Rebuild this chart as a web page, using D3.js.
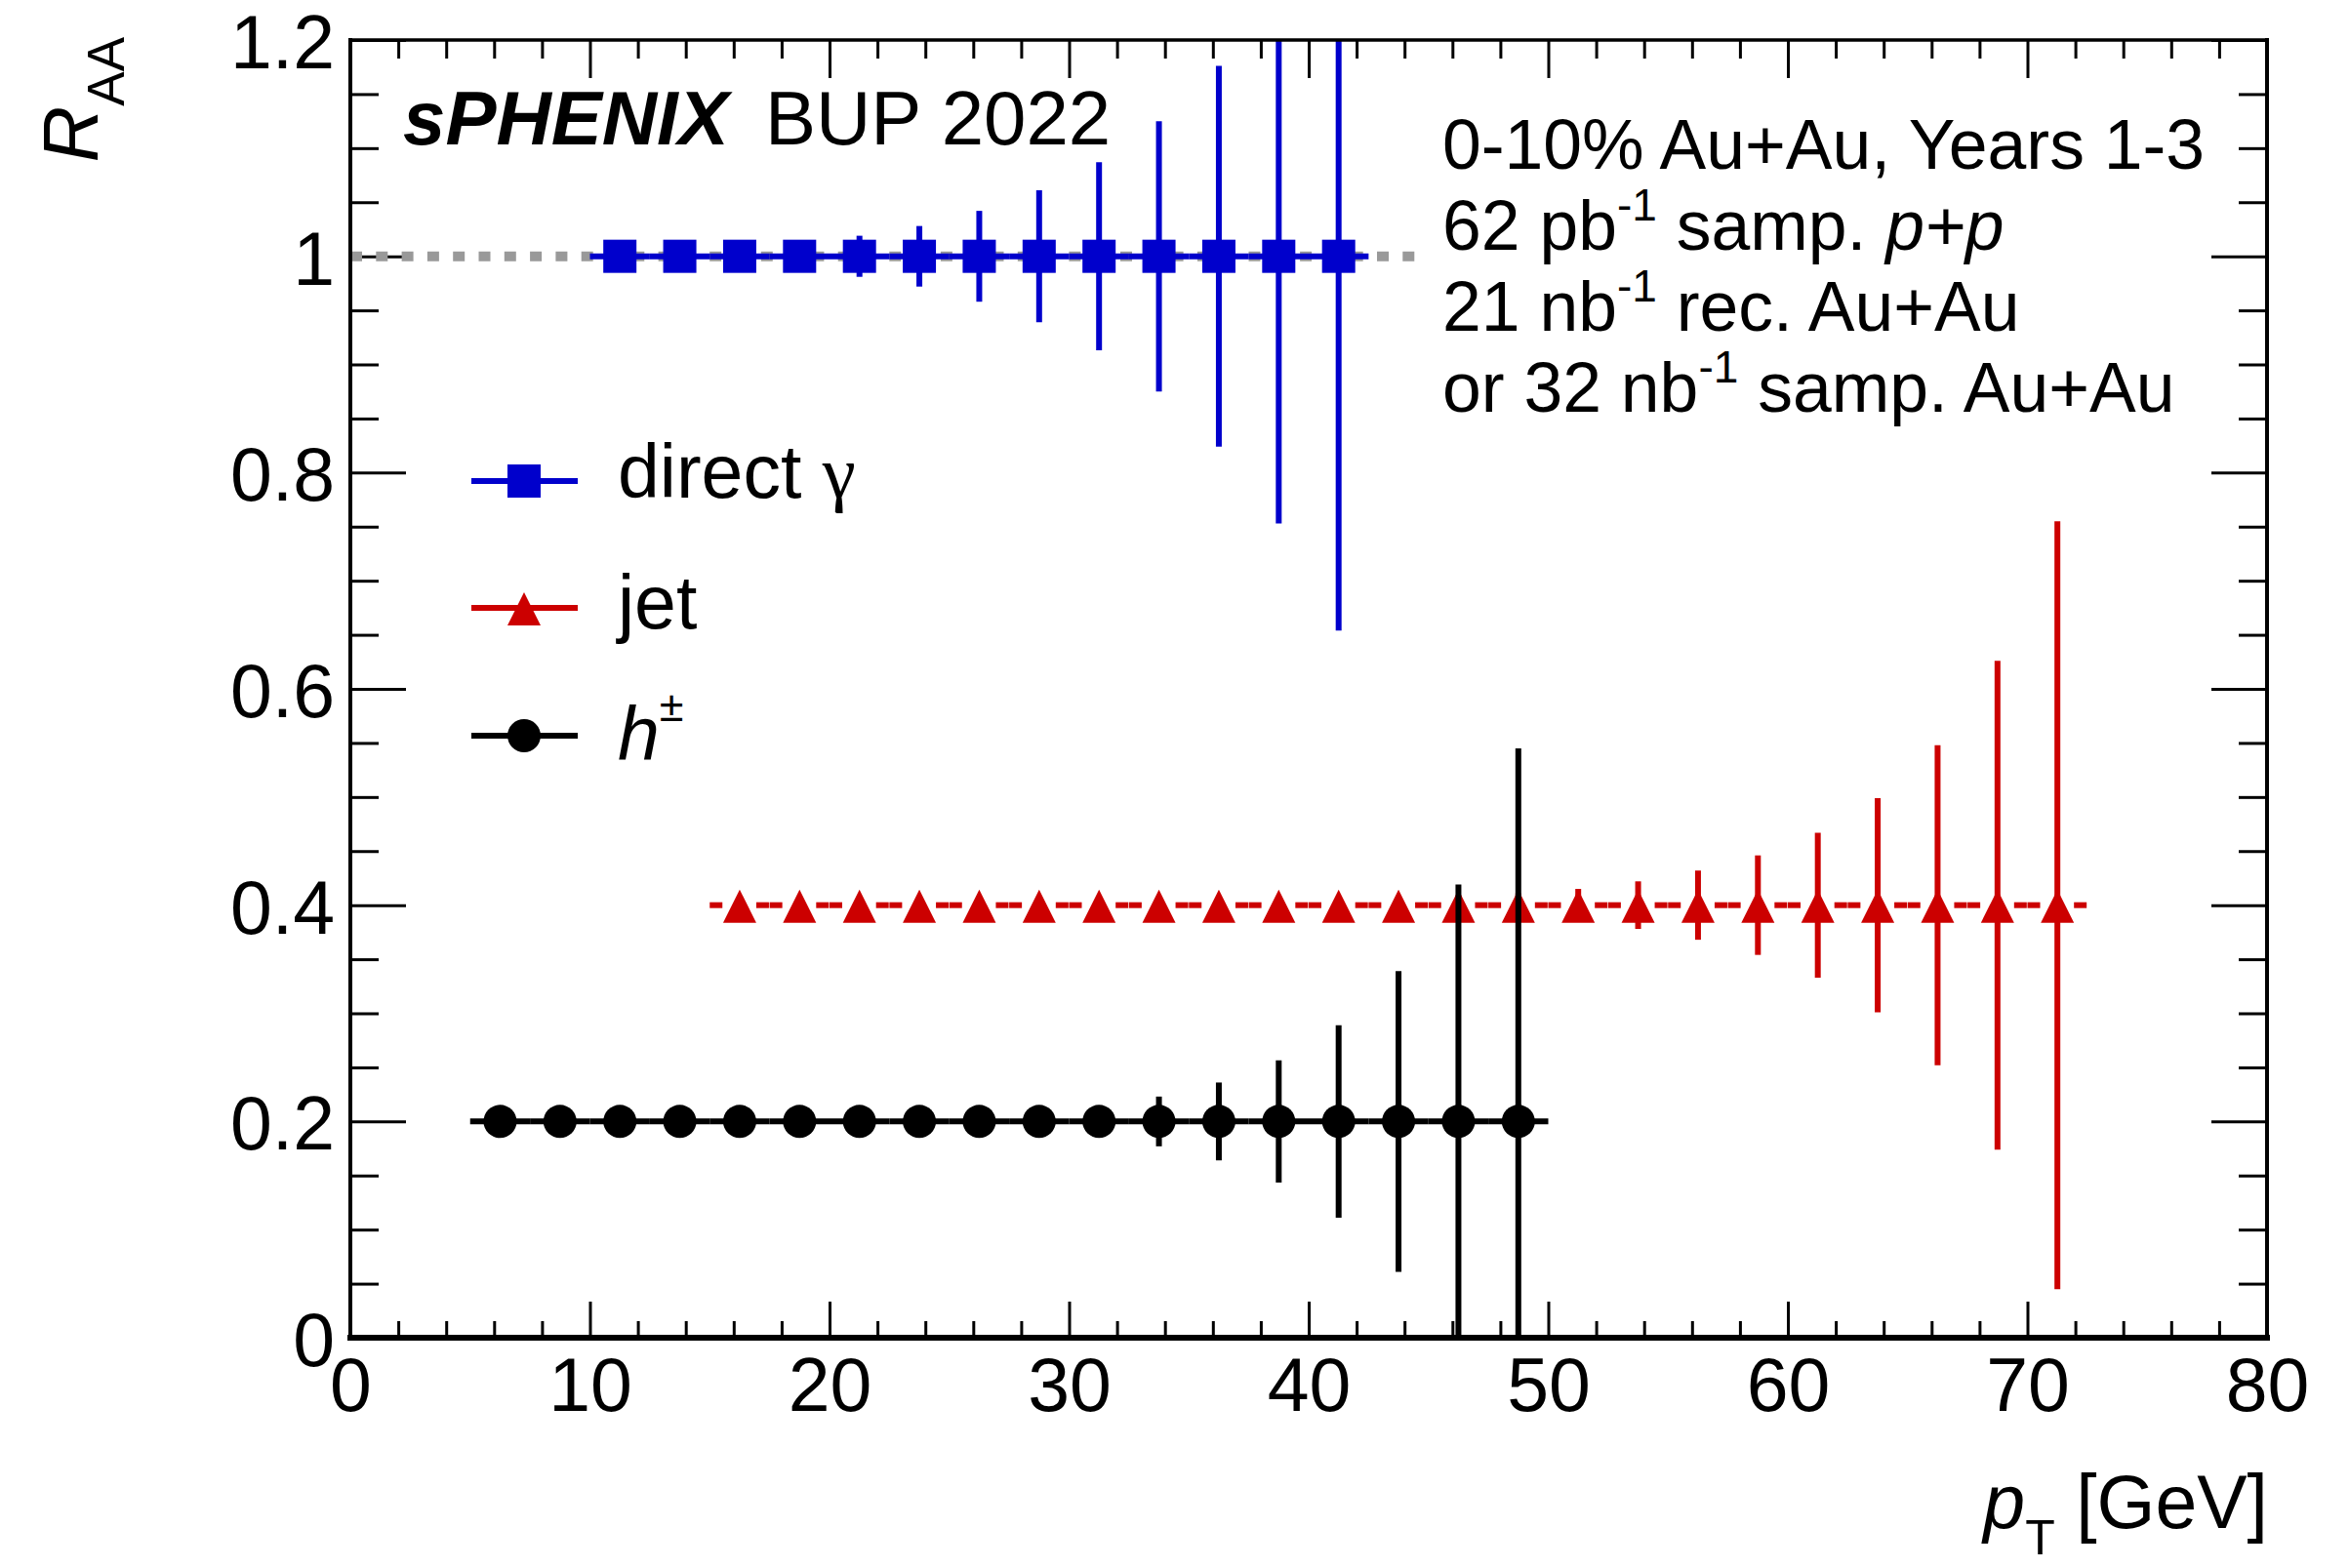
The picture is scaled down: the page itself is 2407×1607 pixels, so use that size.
<!DOCTYPE html>
<html>
<head>
<meta charset="utf-8">
<script src="https://cdn.jsdelivr.net/npm/d3@7"></script>
<style>
  body { margin: 0; background: #fff; }
  svg text { font-family: "Liberation Sans", Arial, Helvetica, sans-serif; fill: #000; }
</style>
</head>
<body>
<svg id="chart"></svg>
<script>

// ---- data ----
const binHalfWidth = 1.25;

const photonPt  = [11.25, 13.75, 16.25, 18.75, 21.25, 23.75, 26.25, 28.75, 31.25, 33.75, 36.25, 38.75, 41.25];
const photonRaa = [1, 1, 1, 1, 1, 1, 1, 1, 1, 1, 1, 1, 1];
const photonErr = [0.003, 0.005, 0.008, 0.012, 0.019, 0.028, 0.042, 0.061, 0.087, 0.125, 0.176, 0.247, 0.346];

const jetPt  = [16.25, 18.75, 21.25, 23.75, 26.25, 28.75, 31.25, 33.75, 36.25, 38.75, 41.25, 43.75,
                46.25, 48.75, 51.25, 53.75, 56.25, 58.75, 61.25, 63.75, 66.25, 68.75, 71.25];
const jetRaa = [0.4, 0.4, 0.4, 0.4, 0.4, 0.4, 0.4, 0.4, 0.4, 0.4, 0.4, 0.4,
                0.4, 0.4, 0.4, 0.4, 0.4, 0.4, 0.4, 0.4, 0.4, 0.4, 0.4];
const jetErr = [0.001, 0.001, 0.001, 0.002, 0.002, 0.002, 0.003, 0.003, 0.004, 0.005, 0.006, 0.007,
                0.009, 0.011, 0.015, 0.022, 0.032, 0.046, 0.067, 0.099, 0.148, 0.226, 0.355];

const hadronPt  = [6.25, 8.75, 11.25, 13.75, 16.25, 18.75, 21.25, 23.75, 26.25, 28.75, 31.25,
                   33.75, 36.25, 38.75, 41.25, 43.75, 46.25, 48.75];
const hadronRaa = [0.2, 0.2, 0.2, 0.2, 0.2, 0.2, 0.2, 0.2, 0.2, 0.2, 0.2,
                   0.2, 0.2, 0.2, 0.2, 0.2, 0.2, 0.2];
const hadronErr = [0.001, 0.001, 0.001, 0.002, 0.002, 0.003, 0.004, 0.005, 0.007, 0.010, 0.014,
                   0.023, 0.036, 0.0565, 0.089, 0.139, 0.219, 0.345];

// dotted reference line at unity
const refLineX = [0, 44.5];
const refLineY = 1;

const xMajorTicks = [0, 10, 20, 30, 40, 50, 60, 70, 80];
const yMajorTicks = [0, 0.2, 0.4, 0.6, 0.8, 1, 1.2];

const legendLabels = ["direct", "jet", "h"];

const infoLines = [
	["0-10% Au+Au, Years 1-3"],
	["62 pb", "-1", " samp. ", "p+p"],
	["21 nb", "-1", " rec. Au+Au"],
	["or 32 nb", "-1", " samp. Au+Au"]
];

// ---- layout ----
const width = 2407, height = 1607;
const plotLeft = 359, plotRight = 2323, plotTop = 41, plotBottom = 1371;

const blue = "#0000cc", red = "#cc0000", black = "#000000";
const markerSize = 34;

const svg = d3.select("#chart")
	.attr("width", width)
	.attr("height", height);

svg.append("rect")
	.attr("width", width)
	.attr("height", height)
	.attr("fill", "#fff");

const x = d3.scaleLinear().domain([0, 80]).range([plotLeft, plotRight]);
const y = d3.scaleLinear().domain([0, 1.2]).range([plotBottom, plotTop]);

svg.append("defs").append("clipPath")
	.attr("id", "plot-clip")
  .append("rect")
	.attr("x", plotLeft)
	.attr("y", plotTop)
	.attr("width", plotRight - plotLeft)
	.attr("height", plotBottom - plotTop);

// ---- axes: ticks pointing inwards on all four sides ----
const xMinor = d3.range(0, 80.001, 2).filter(v => v % 10 !== 0);
const yMinor = d3.range(0, 1.2001, 0.05).filter(v => Math.abs(v / 0.2 - Math.round(v / 0.2)) > 1e-6);
const fmt = d => d3.format("~g")(d);

function styleAxis(g) {
	g.select(".domain").remove();
	g.selectAll(".tick line").attr("stroke", "#000").attr("stroke-width", 3);
	g.selectAll(".tick text")
		.attr("fill", "#000")
		.style("font-size", "77px")
		.style("font-family", "'Liberation Sans', Arial, sans-serif");
}

svg.append("g")
	.attr("transform", "translate(0," + plotBottom + ")")
	.call(d3.axisBottom(x).tickValues(xMinor).tickSize(-17).tickFormat(""))
	.call(styleAxis);

svg.append("g")
	.attr("transform", "translate(0," + plotBottom + ")")
	.call(d3.axisBottom(x).tickValues(xMajorTicks).tickSize(-37).tickPadding(20).tickFormat(fmt))
	.call(styleAxis);

svg.append("g")
	.attr("transform", "translate(0," + plotTop + ")")
	.call(d3.axisTop(x).tickValues(xMinor).tickSize(-19).tickFormat(""))
	.call(styleAxis);

svg.append("g")
	.attr("transform", "translate(0," + plotTop + ")")
	.call(d3.axisTop(x).tickValues(xMajorTicks).tickSize(-39).tickFormat(""))
	.call(styleAxis);

svg.append("g")
	.attr("transform", "translate(" + plotLeft + ",0)")
	.call(d3.axisLeft(y).tickValues(yMinor).tickSize(-29).tickFormat(""))
	.call(styleAxis);

svg.append("g")
	.attr("transform", "translate(" + plotLeft + ",0)")
	.call(d3.axisLeft(y).tickValues(yMajorTicks).tickSize(-57).tickPadding(16).tickFormat(fmt))
	.call(styleAxis)
	.selectAll(".tick text")
	.attr("dy", "0.37em");

svg.append("g")
	.attr("transform", "translate(" + plotRight + ",0)")
	.call(d3.axisRight(y).tickValues(yMinor).tickSize(-29).tickFormat(""))
	.call(styleAxis);

svg.append("g")
	.attr("transform", "translate(" + plotRight + ",0)")
	.call(d3.axisRight(y).tickValues(yMajorTicks).tickSize(-57).tickFormat(""))
	.call(styleAxis);

// ---- data layer ----
const dataLayer = svg.append("g").attr("clip-path", "url(#plot-clip)");

// grey dotted line at R_AA = 1
dataLayer.append("line")
	.attr("x1", x(refLineX[0]))
	.attr("x2", x(refLineX[1]))
	.attr("y1", y(refLineY))
	.attr("y2", y(refLineY))
	.attr("stroke", "#999999")
	.attr("stroke-width", 10)
	.attr("stroke-dasharray", "12 14.3");

function drawMarker(g, shape, cx, cy, color) {
	const h = markerSize / 2;
	if (shape === "square") {
		g.append("rect")
			.attr("x", cx - h).attr("y", cy - h)
			.attr("width", markerSize).attr("height", markerSize)
			.attr("fill", color);
	} else if (shape === "triangle") {
		g.append("path")
			.attr("d", "M" + cx + "," + (cy - 16) + "L" + (cx + h) + "," + (cy + 18) +
				"L" + (cx - h) + "," + (cy + 18) + "Z")
			.attr("fill", color);
	} else {
		g.append("circle")
			.attr("cx", cx).attr("cy", cy).attr("r", h)
			.attr("fill", color);
	}
}

function drawSeries(pts, vals, errs, color, shape, dashed) {

	const g = dataLayer.append("g");
	const h = markerSize / 2;

	pts.forEach((pt, i) => {
		const cx = x(pt), cy = y(vals[i]);
		const xl = x(pt - binHalfWidth), xh = x(pt + binHalfWidth);

		// horizontal bin-width bar (ROOT leaves a hole for the marker)
		const segs = dashed ? [[xl, cx - h], [cx + h, xh]] : [[xl, xh]];
		segs.forEach(s => {
			g.append("line")
				.attr("x1", s[0]).attr("x2", s[1])
				.attr("y1", cy).attr("y2", cy)
				.attr("stroke", color)
				.attr("stroke-width", 6)
				.attr("stroke-dasharray", dashed ? "13 3" : null);
		});

		// vertical error bar
		g.append("line")
			.attr("x1", cx).attr("x2", cx)
			.attr("y1", y(vals[i] + errs[i]))
			.attr("y2", y(vals[i] - errs[i]))
			.attr("stroke", color)
			.attr("stroke-width", 6);
	});

	pts.forEach((pt, i) => drawMarker(g, shape, x(pt), y(vals[i]), color));
}

drawSeries(photonPt, photonRaa, photonErr, blue, "square", false);
drawSeries(jetPt, jetRaa, jetErr, red, "triangle", true);
drawSeries(hadronPt, hadronRaa, hadronErr, black, "circle", false);

// ---- frame ----
const frame = svg.append("g").attr("stroke", "#000").attr("stroke-linecap", "square");
frame.append("line").attr("x1", plotLeft).attr("x2", plotRight).attr("y1", plotTop).attr("y2", plotTop).attr("stroke-width", 3.5);
frame.append("line").attr("x1", plotRight).attr("x2", plotRight).attr("y1", plotTop).attr("y2", plotBottom).attr("stroke-width", 4);
frame.append("line").attr("x1", plotLeft).attr("x2", plotLeft).attr("y1", plotTop).attr("y2", plotBottom).attr("stroke-width", 4);
frame.append("line").attr("x1", plotLeft).attr("x2", plotRight).attr("y1", plotBottom).attr("y2", plotBottom).attr("stroke-width", 6);

// ---- axis titles ----
const yTitle = svg.append("text")
	.attr("transform", "translate(100,38) rotate(-90)")
	.attr("text-anchor", "end");
yTitle.append("tspan").style("font-size", "80px").style("font-style", "italic").text("R");
yTitle.append("tspan").style("font-size", "53px").attr("dy", 27).text("AA");

const xTitle = svg.append("text")
	.attr("x", 2324)
	.attr("y", 1566)
	.attr("text-anchor", "end");
xTitle.append("tspan").style("font-size", "77px").style("font-style", "italic").text("p");
xTitle.append("tspan").style("font-size", "50px").attr("dy", 27).text("T");
xTitle.append("tspan").style("font-size", "77px").attr("dy", -27).text(" [GeV]");

// ---- labels ----
svg.append("text")
	.attr("x", 413).attr("y", 148)
	.style("font-size", "78px")
	.style("font-weight", "bold")
	.style("font-style", "italic")
	.text("sPHENIX");

svg.append("text")
	.attr("x", 784).attr("y", 148)
	.style("font-size", "78px")
	.text("BUP 2022");

const infoBaselines = [173, 256, 339, 422];
infoLines.forEach((parts, i) => {
	const t = svg.append("text")
		.attr("x", 1478)
		.attr("y", infoBaselines[i])
		.style("font-size", "71.5px");
	if (parts.length === 1) {
		t.text(parts[0]);
		return;
	}
	t.append("tspan").text(parts[0]);
	t.append("tspan").style("font-size", "46px").attr("dy", -30).text(parts[1]);
	t.append("tspan").attr("dy", 30).text(parts[2]);
	if (parts[3]) t.append("tspan").style("font-style", "italic").text(parts[3]);
});
svg.selectAll("text").attr("xml:space", "preserve");

// ---- legend ----
const legendRows = [493, 623, 754];
const legendSeries = [
	{ color: blue, shape: "square" },
	{ color: red, shape: "triangle" },
	{ color: black, shape: "circle" }
];

const legend = svg.append("g");
legendSeries.forEach((s, i) => {
	const cy = legendRows[i];
	legend.append("line")
		.attr("x1", 483).attr("x2", 592)
		.attr("y1", cy).attr("y2", cy)
		.attr("stroke", s.color)
		.attr("stroke-width", 6);
	drawMarker(legend, s.shape, 537, cy, s.color);
});

const l0 = legend.append("text").attr("x", 633).attr("y", legendRows[0] + 17).style("font-size", "77px");
l0.append("tspan").text(legendLabels[0] + " ");
l0.append("tspan").style("font-family", "'Liberation Serif', 'DejaVu Serif', serif").text("\u03b3");

legend.append("text").attr("x", 633).attr("y", legendRows[1] + 21).style("font-size", "77px").text(legendLabels[1]);

const l2 = legend.append("text").attr("x", 633).attr("y", legendRows[2] + 25).style("font-size", "77px");
l2.append("tspan").style("font-style", "italic").text(legendLabels[2]);
l2.append("tspan").style("font-size", "45px").attr("dy", -40).text("\u00b1");

</script>
</body>
</html>
